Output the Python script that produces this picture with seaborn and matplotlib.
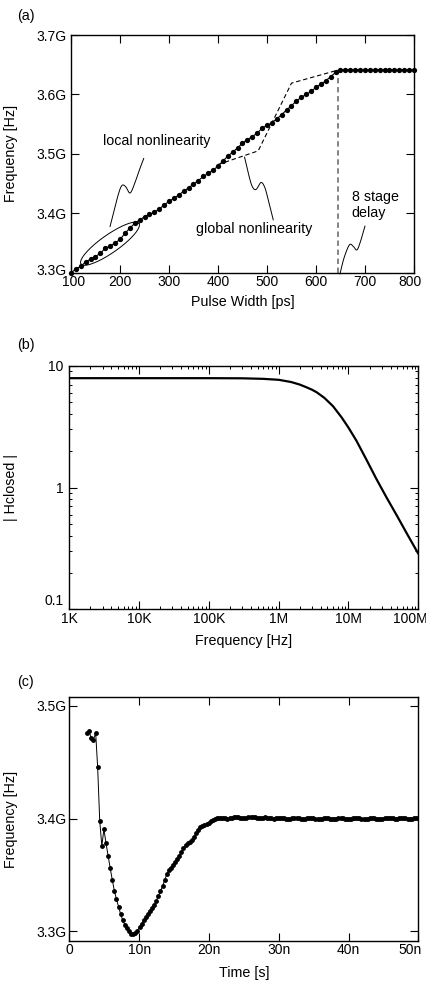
import numpy as np
import pandas as pd
import seaborn as sns
import matplotlib
matplotlib.use("Agg")
import matplotlib.pyplot as plt
import matplotlib.transforms as mtransforms
from matplotlib.ticker import FixedLocator, FixedFormatter, LogLocator, NullFormatter

# ---------------- data ----------------
# (a) frequency vs pulse width
pulse_width_ps = list(range(100, 801, 10))
freq_a_ghz = [3.300, 3.306, 3.311, 3.318, 3.323, 3.327, 3.333, 3.341, 3.345, 3.350,
              3.356, 3.366, 3.375, 3.383, 3.389, 3.394, 3.398, 3.402, 3.407, 3.414,
              3.420, 3.425, 3.431, 3.437, 3.443, 3.449, 3.455, 3.462, 3.467, 3.473,
              3.479, 3.488, 3.496, 3.503, 3.510, 3.518, 3.524, 3.529, 3.535, 3.543,
              3.548, 3.552, 3.559, 3.566, 3.574, 3.581, 3.589, 3.595, 3.600, 3.605,
              3.612, 3.617, 3.623, 3.630, 3.637,
              3.641, 3.641, 3.641, 3.641, 3.641, 3.641, 3.641, 3.641,
              3.641, 3.641, 3.641, 3.641, 3.641, 3.641, 3.641, 3.641]
global_x_ps = [400, 482, 550, 645]
global_y_ghz = [3.482, 3.505, 3.619, 3.641]
delay_x_ps = 645
delay_y_ghz = [3.300, 3.641]
xticks_a = [100, 200, 300, 400, 500, 600, 700, 800]
yticks_a = [3.3, 3.4, 3.5, 3.6, 3.7]
ylabels_a = ["3.3G", "3.4G", "3.5G", "3.6G", "3.7G"]

# (b) closed-loop magnitude
bode_f_hz = [1e3, 1e4, 1e5, 3e5, 6e5, 1e6, 1.5e6, 2e6, 2.5e6, 3e6, 3.5e6, 4.5e6,
             6e6, 8e6, 1e7, 1.3e7, 1.8e7, 2.5e7, 3.5e7, 5e7, 7e7, 1e8]
bode_mag = [7.9, 7.9, 7.9, 7.88, 7.8, 7.66, 7.35, 7.0, 6.65, 6.35, 6.05, 5.45,
            4.65, 3.75, 3.1, 2.42, 1.7, 1.18, 0.83, 0.58, 0.41, 0.286]
xticks_b = [1e3, 1e4, 1e5, 1e6, 1e7, 1e8]
xlabels_b = ["1K", "10K", "100K", "1M", "10M", "100M"]
yticks_b = [0.1, 1, 10]
ylabels_b = ["0.1", "1", "10"]

# (c) frequency transient
t_start_ns = [2.49, 2.83, 3.11, 3.44, 3.78]
f_start_ghz = [3.4758, 3.4778, 3.4719, 3.4698, 3.4758]
f_main_ghz = [3.4458, 3.3979, 3.3757, 3.3905, 3.3781, 3.3668, 3.3559, 3.3455, 3.3357, 3.3283,
              3.3215, 3.3150, 3.3095, 3.3055, 3.3025, 3.3000, 3.2978, 3.2972, 3.2985, 3.3005,
              3.3035, 3.3065, 3.3095, 3.3125, 3.3152, 3.3180, 3.3205, 3.3232, 3.3270, 3.3310,
              3.3355, 3.3400, 3.3450, 3.3505, 3.3540, 3.3565, 3.3590, 3.3615, 3.3640, 3.3665,
              3.3700, 3.3737, 3.3765, 3.3780, 3.3792, 3.3810, 3.3835, 3.3868, 3.3900, 3.3922,
              3.3935, 3.3942, 3.3948, 3.3960, 3.3975, 3.3990, 3.4000, 3.4005, 3.4006, 3.4003,
              3.4004, 3.4001, 3.3999, 3.4002, 3.4006, 3.4010, 3.4012, 3.4011, 3.4007, 3.4004,
              3.4005, 3.4009, 3.4013, 3.4015, 3.4014, 3.4010, 3.4005, 3.4002, 3.4003, 3.4007,
              3.4010, 3.4009, 3.4005, 3.4001, 3.3999, 3.4001, 3.4005, 3.4008, 3.4007, 3.4003,
              3.3999, 3.3997, 3.3999, 3.4003, 3.4006, 3.4006, 3.4002, 3.3998, 3.3996, 3.3998,
              3.4002, 3.4006, 3.4007, 3.4004, 3.4000, 3.3997, 3.3997, 3.4000, 3.4004, 3.4006,
              3.4004, 3.4000, 3.3996, 3.3995, 3.3998, 3.4002, 3.4005, 3.4004, 3.4000, 3.3996,
              3.3995, 3.3997, 3.4001, 3.4004, 3.4004, 3.4001, 3.3997, 3.3995, 3.3996, 3.4000,
              3.4004, 3.4006, 3.4004, 3.4000, 3.3997, 3.3996, 3.3999, 3.4003, 3.4007, 3.4008,
              3.4005, 3.4001, 3.3998, 3.3998, 3.4001, 3.4005, 3.4006, 3.4004, 3.4000, 3.3997,
              3.3998, 3.4001, 3.4004, 3.4004]
t_main_ns = [round(4.06 + 0.3 * k, 2) for k in range(len(f_main_ghz))]
t_c_ns = t_start_ns + t_main_ns
f_c_ghz = f_start_ghz + f_main_ghz
xticks_c = [0, 10, 20, 30, 40, 50]
xlabels_c = ["0", "10n", "20n", "30n", "40n", "50n"]
yticks_c = [3.3, 3.4, 3.5]
ylabels_c = ["3.3G", "3.4G", "3.5G"]

# ---------------- style ----------------
sns.set_theme(style="ticks")
plt.rcParams['font.family'] = ['Liberation Sans', 'DejaVu Sans']
plt.rcParams['axes.edgecolor'] = 'black'
plt.rcParams['axes.linewidth'] = 1.0
TICK_FS = 10
LABEL_FS = 10.3

W, H = 427, 981
fig = plt.figure(figsize=(W / 100, H / 100), dpi=100)

def add_axes_px(L, T, R, B):
    return fig.add_axes([L / W, 1 - B / H, (R - L) / W, (B - T) / H])

box_a = (71, 35, 414, 272.7)
box_b = (69.3, 365.7, 418.3, 609.3)
box_c = (69.3, 697.3, 418.3, 940.7)
ax_a = add_axes_px(*box_a)
ax_b = add_axes_px(*box_b)
ax_c = add_axes_px(*box_c)

def style_ticks(ax, pad_x=2, pad_y=3):
    ax.tick_params(which='both', direction='in', top=True, right=True,
                   colors='black', labelcolor='black')
    ax.tick_params(which='major', length=5.5, width=0.8, labelsize=TICK_FS)
    ax.tick_params(which='minor', length=2.5, width=0.7)
    ax.tick_params(axis='x', which='major', pad=pad_x)
    ax.tick_params(axis='y', which='major', pad=pad_y)
    for s in ax.spines.values():
        s.set_color('black')
        s.set_linewidth(1.0)

def shift_label(lbl, dx_px, dy_px):
    lbl.set_transform(lbl.get_transform() +
                      mtransforms.ScaledTranslation(dx_px / 100, dy_px / 100, fig.dpi_scale_trans))

def catmull(pts, n=24):
    pts = np.asarray(pts, float)
    P = np.vstack([2 * pts[0] - pts[1], pts, 2 * pts[-1] - pts[-2]])
    out = []
    for i in range(1, len(P) - 2):
        p0, p1, p2, p3 = P[i - 1], P[i], P[i + 1], P[i + 2]
        t = np.linspace(0, 1, n, endpoint=False)[:, None]
        out.append(0.5 * ((2 * p1) + (-p0 + p2) * t + (2 * p0 - 5 * p1 + 4 * p2 - p3) * t ** 2
                          + (-p0 + 3 * p1 - 3 * p2 + p3) * t ** 3))
    out.append(P[-2][None, :])
    return np.vstack(out)

def px_to_axes(xy, box):
    L, T, R, B = box
    xy = np.asarray(xy, float)
    return np.column_stack([(xy[:, 0] - L) / (R - L), (B - xy[:, 1]) / (B - T)])

def draw_curve_px(ax, pts, box, **kw):
    c = px_to_axes(catmull(pts), box)
    ax.plot(c[:, 0], c[:, 1], transform=ax.transAxes, clip_on=False, **kw)

# ---------------- (a) ----------------
ax = ax_a
ax.plot(global_x_ps, global_y_ghz, color='black', lw=0.8, ls=(0, (4, 2.5)), zorder=2)
ax.plot([delay_x_ps, delay_x_ps], delay_y_ghz, color='#7a7a7a', lw=1.3, ls=(0, (3, 2)), zorder=2)
sns.lineplot(x=pulse_width_ps, y=freq_a_ghz, ax=ax, color='black', lw=0.8, marker='o',
             markersize=3.8, markeredgewidth=0, clip_on=False, zorder=3)
ax.set_xlim(100, 800)
ax.set_ylim(3.3, 3.7)
ax.xaxis.set_major_locator(FixedLocator(xticks_a))
ax.xaxis.set_major_formatter(FixedFormatter([str(v) for v in xticks_a]))
ax.yaxis.set_major_locator(FixedLocator(yticks_a))
ax.yaxis.set_major_formatter(FixedFormatter(ylabels_a))
style_ticks(ax, pad_x=2, pad_y=3)
ax.set_xlabel("Pulse Width [ps]", fontsize=LABEL_FS, labelpad=4, color='black')
ax.set_ylabel("Frequency [Hz]", fontsize=LABEL_FS, color='black')
ax.yaxis.set_label_coords((18 - 71) / 343, 0.5)

# ellipse around local nonlinearity (pixel geometry)
tt = np.linspace(0, 2 * np.pi, 200)
a_s, b_s, th = 35.4, 9.0, np.deg2rad(35)
ex = 110 + a_s * np.cos(tt) * np.cos(th) - b_s * np.sin(tt) * np.sin(th)
ey = 243.7 - (a_s * np.cos(tt) * np.sin(th) + b_s * np.sin(tt) * np.cos(th))
e = px_to_axes(np.column_stack([ex, ey]), box_a)
ax.plot(e[:, 0], e[:, 1], transform=ax.transAxes, color='black', lw=0.7, clip_on=False)

draw_curve_px(ax, [(110, 226.7), (117, 199), (121.5, 186), (125.5, 186.5), (130, 193),
                   (134.5, 184), (139, 171), (143.8, 158.3)], box_a, color='black', lw=0.7)
draw_curve_px(ax, [(244.5, 157), (248, 172), (252, 186), (256, 189.5), (261, 182.5),
                   (265, 188), (269, 203), (273.3, 220)], box_a, color='black', lw=0.7)
draw_curve_px(ax, [(340, 274), (344, 258), (349.3, 245), (353, 246), (356.7, 250),
                   (360, 243), (365, 226)], box_a, color='black', lw=0.7)

ax.text(274, 3.522, "local nonlinearity", fontsize=LABEL_FS, ha='center', va='center', color='black')
ax.text(474, 3.373, "global nonlinearity", fontsize=LABEL_FS, ha='center', va='center', color='black')
ax.text(673, 3.414, "8 stage\ndelay", fontsize=LABEL_FS, ha='left', va='center',
        linespacing=1.15, color='black')
shift_label(ax.get_xticklabels()[-1], -4, 0)
shift_label(ax.get_xticklabels()[0], 3, 0)
shift_label(ax.get_yticklabels()[0], 0, 3)

# ---------------- (b) ----------------
ax = ax_b
ax.set_xscale('log')
ax.set_yscale('log')
sns.lineplot(x=bode_f_hz, y=bode_mag, ax=ax, color='black', lw=1.6)
ax.set_xlim(1e3, 1e8)
ax.set_ylim(0.1, 10)
ax.xaxis.set_major_locator(FixedLocator(xticks_b))
ax.xaxis.set_major_formatter(FixedFormatter(xlabels_b))
ax.xaxis.set_minor_locator(LogLocator(base=10, subs=np.arange(2, 10), numticks=20))
ax.xaxis.set_minor_formatter(NullFormatter())
ax.yaxis.set_major_locator(FixedLocator(yticks_b))
ax.yaxis.set_major_formatter(FixedFormatter(ylabels_b))
ax.yaxis.set_minor_locator(LogLocator(base=10, subs=np.arange(2, 10), numticks=20))
ax.yaxis.set_minor_formatter(NullFormatter())
style_ticks(ax, pad_x=2, pad_y=4)
ax.set_xlabel("Frequency [Hz]", fontsize=LABEL_FS, labelpad=6, color='black')
ax.set_ylabel("| Hclosed |", fontsize=LABEL_FS, color='black')
ax.yaxis.set_label_coords((18 - 69.3) / 349, 0.5)
shift_label(ax.get_xticklabels()[-1], -8, 0)
shift_label(ax.get_yticklabels()[0], 0, 10)

# ---------------- (c) ----------------
ax = ax_c
sns.lineplot(x=t_c_ns, y=f_c_ghz, ax=ax, color='black', lw=0.7, marker='o',
             markersize=3.5, markeredgewidth=0, sort=False)
ax.set_xlim(0, 50)
ax.set_ylim(3.2915, 3.5077)
ax.xaxis.set_major_locator(FixedLocator(xticks_c))
ax.xaxis.set_major_formatter(FixedFormatter(xlabels_c))
ax.yaxis.set_major_locator(FixedLocator(yticks_c))
ax.yaxis.set_major_formatter(FixedFormatter(ylabels_c))
style_ticks(ax, pad_x=2, pad_y=2)
ax.set_xlabel("Time [s]", fontsize=LABEL_FS, labelpad=6, color='black')
ax.set_ylabel("Frequency [Hz]", fontsize=LABEL_FS, color='black')
ax.yaxis.set_label_coords((18 - 69.3) / 349, 0.5)
shift_label(ax.get_xticklabels()[-1], -8, 0)

# panel letters
fig.text(17 / W, 1 - 16 / H, "(a)", fontsize=LABEL_FS, ha='left', va='center', color='black')
fig.text(17 / W, 1 - 345 / H, "(b)", fontsize=LABEL_FS, ha='left', va='center', color='black')
fig.text(17 / W, 1 - 682 / H, "(c)", fontsize=LABEL_FS, ha='left', va='center', color='black')

fig.savefig("out.png", dpi=100)
